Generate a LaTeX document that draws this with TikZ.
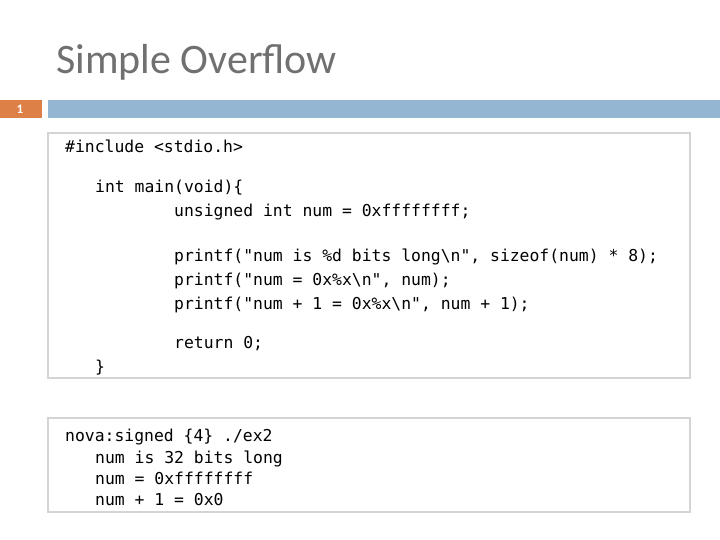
\documentclass[tikz,border=0pt]{standalone}
\usepackage{fontspec}
\setmainfont{Carlito}
\setmonofont{DejaVu Sans Mono}
\usetikzlibrary{positioning}
\definecolor{titlegray}{HTML}{707070}
\definecolor{numorange}{HTML}{DD8047}
\definecolor{barblue}{HTML}{94B6D2}
\definecolor{boxline}{HTML}{D4D4D4}
\tikzset{
  codeline/.style={anchor=base west, inner sep=0pt, font=\ttfamily\fontsize{16.4}{19}\selectfont},
  codebox/.style={draw=boxline, line width=1.2pt, fill=white}
}
\begin{document}
\begin{tikzpicture}[x=1pt, y=-1pt]
  \useasboundingbox (0,0) rectangle (720,540);
  % title
  \node[anchor=base west, inner sep=0pt, text=titlegray, font=\fontsize{42}{48}\selectfont] (title) at (56,74) {Simple Overflow};
  % slide number and bar
  \fill[numorange] (0,100) rectangle (42,118);
  \node[text=white, font=\bfseries\fontsize{13}{15}\selectfont] (num) at (20,109.5) {1};
  \fill[barblue] (48,100) rectangle (720,118);
  % source code
  \draw[codebox] (48,133) rectangle (690,378);
  \node[codeline] (l1) at (65,153) {\#include <stdio.h>};
  \node[codeline] (l2) at (95,193) {int main(void)\{};
  \node[codeline] (l3) at (174,217) {unsigned int num = 0xffffffff;};
  \node[codeline] (l4) at (174,261) {printf("num is \%d bits long\textbackslash n", sizeof(num) * 8);};
  \node[codeline] (l5) at (174,285) {printf("num = 0x\%x\textbackslash n", num);};
  \node[codeline] (l6) at (174,309) {printf("num + 1 = 0x\%x\textbackslash n", num + 1);};
  \node[codeline] (l7) at (174,348) {return 0;};
  \node[codeline] (l8) at (95,372) {\}};
  % output
  \draw[codebox] (48,418) rectangle (690,512);
  \node[codeline] (o1) at (65,441) {nova:signed \{4\} ./ex2};
  \node[codeline] (o2) at (95,463) {num is 32 bits long};
  \node[codeline] (o3) at (95,484) {num = 0xffffffff};
  \node[codeline] (o4) at (95,505) {num + 1 = 0x0};
\end{tikzpicture}
\end{document}
